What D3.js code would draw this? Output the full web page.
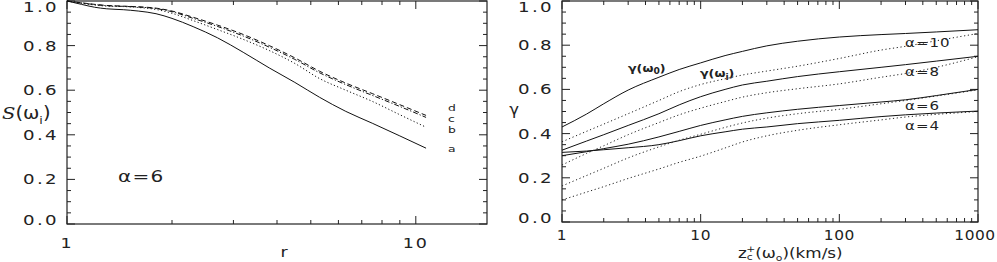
<!DOCTYPE html>
<html><head><meta charset="utf-8">
<script src="https://cdn.jsdelivr.net/npm/d3@7/dist/d3.min.js"></script>
<style>
html,body{margin:0;padding:0;background:#fff;}
text{font-family:"DejaVu Sans",sans-serif;fill:#222;}
</style></head>
<body>
<svg id="c" width="997" height="262"></svg>
<script>
// ---------- DATA ----------
// Left panel: S(omega_i) vs r, alpha = 6
const leftR = [1, 1.1, 1.2, 1.3, 1.45, 1.6, 1.8, 2.0, 2.3, 2.7, 3.2, 3.8, 4.5, 5.3, 6.3, 7.5, 9, 10.7];
const sA = [1.0, 0.985, 0.972, 0.965, 0.961, 0.955, 0.943, 0.922, 0.885, 0.835, 0.77, 0.70, 0.635, 0.568, 0.505, 0.452, 0.395, 0.34];
const sB = [1.0, 0.99, 0.982, 0.977, 0.975, 0.971, 0.962, 0.945, 0.912, 0.872, 0.828, 0.778, 0.72, 0.652, 0.60, 0.55, 0.49, 0.434];
const sC = [1.0, 0.991, 0.984, 0.979, 0.976, 0.973, 0.966, 0.952, 0.922, 0.886, 0.843, 0.793, 0.738, 0.678, 0.625, 0.577, 0.527, 0.478];
const sD = [1.0, 0.992, 0.985, 0.98, 0.977, 0.974, 0.968, 0.955, 0.927, 0.892, 0.85, 0.80, 0.745, 0.685, 0.632, 0.585, 0.535, 0.487];
const leftSeriesNames = ["d", "c", "b", "a"];

// Right panel: gamma vs z_c^+(omega_0)
const zVals = [1, 1.5, 2, 3, 5, 7, 10, 15, 20, 30, 50, 100, 200, 300, 500, 1000];
const g0A10 = [0.43, 0.488, 0.535, 0.597, 0.655, 0.69, 0.72, 0.753, 0.772, 0.797, 0.818, 0.837, 0.848, 0.853, 0.86, 0.87];
const g0A8  = [0.325, 0.366, 0.395, 0.437, 0.49, 0.53, 0.567, 0.60, 0.62, 0.637, 0.658, 0.68, 0.70, 0.712, 0.728, 0.75];
const g0A6  = [0.30, 0.318, 0.332, 0.352, 0.385, 0.41, 0.437, 0.462, 0.478, 0.494, 0.51, 0.527, 0.543, 0.553, 0.572, 0.60];
const g0A4  = [0.315, 0.321, 0.327, 0.336, 0.35, 0.368, 0.39, 0.408, 0.42, 0.43, 0.445, 0.46, 0.477, 0.485, 0.493, 0.502];
const giA10 = [0.363, 0.41, 0.443, 0.49, 0.55, 0.59, 0.622, 0.648, 0.665, 0.683, 0.705, 0.74, 0.778, 0.795, 0.82, 0.853];
const giA8  = [0.258, 0.31, 0.345, 0.395, 0.45, 0.485, 0.515, 0.545, 0.565, 0.585, 0.603, 0.625, 0.655, 0.672, 0.70, 0.748];
const giA6  = [0.163, 0.21, 0.243, 0.29, 0.34, 0.37, 0.397, 0.428, 0.448, 0.47, 0.49, 0.51, 0.535, 0.55, 0.57, 0.598];
const giA4  = [0.10, 0.135, 0.16, 0.197, 0.24, 0.27, 0.298, 0.335, 0.362, 0.39, 0.415, 0.44, 0.462, 0.475, 0.487, 0.50];
const alphaLabels = ["α=10", "α=8", "α=6", "α=4"];

// Tick labels
const yTicks = [0, 0.2, 0.4, 0.6, 0.8, 1.0];
const leftXTicks = [1, 10];
const rightXTicks = [1, 10, 100, 1000];

// ---------- DRAW ----------
const svg = d3.select("#c");
svg.append("rect").attr("width", 997).attr("height", 262).attr("fill", "#fff");

const SX = 1.25;
function txt(g, x, y, s, o = {}) {
  const t = g.append("text")
    .attr("transform", `translate(${x},${y}) scale(${o.sx || SX},1)`)
    .attr("font-size", o.size || 14)
    .attr("text-anchor", o.anchor || "start");
  if (o.ls) t.attr("letter-spacing", o.ls);
  if (o.weight) t.attr("font-weight", o.weight);
  if (o.style) t.attr("font-style", o.style);
  t.text(s);
  return t;
}

function frame(g, x, y) {
  const [x0, x1] = x.range(), [y0, y1] = y.range();
  g.append("rect").attr("x", x0).attr("y", y1).attr("width", x1 - x0).attr("height", y0 - y1)
    .attr("fill", "none").attr("stroke", "#222").attr("stroke-width", 1.2);
  const yt = d3.range(0, 1.0001, 0.05);
  yt.forEach(v => {
    const major = Math.abs(v * 5 - Math.round(v * 5)) < 1e-6;
    const L = major ? 8 : 4;
    const py = y(v);
    g.append("line").attr("x1", x0).attr("x2", x0 + L).attr("y1", py).attr("y2", py).attr("stroke", "#222");
    g.append("line").attr("x1", x1).attr("x2", x1 - L).attr("y1", py).attr("y2", py).attr("stroke", "#222");
  });
  const [d0, d1] = x.domain();
  const xt = [];
  for (let dec = 1; dec < d1; dec *= 10) for (let m = 1; m < 10; m++) { const v = dec * m; if (v >= d0 && v <= d1) xt.push([v, m === 1]); }
  if (Math.abs(Math.log10(d1) - Math.round(Math.log10(d1))) < 1e-9) xt.push([d1, true]);
  xt.forEach(([v, major]) => {
    const L = major ? 8 : 4;
    const px = x(v);
    g.append("line").attr("x1", px).attr("x2", px).attr("y1", y0).attr("y2", y0 - L).attr("stroke", "#222");
    g.append("line").attr("x1", px).attr("x2", px).attr("y1", y1).attr("y2", y1 + L).attr("stroke", "#222");
  });
  yTicks.forEach(v => {
    let py = y(v) + 5;
    py = Math.min(Math.max(py, y1 + 11), y0 + 1);
    txt(g, x0 - 8, py, d3.format(".1f")(v), { anchor: "end", ls: 1.8, size: 14, sx: 1.3 });
  });
}

// ----- Left panel -----
const gL = svg.append("g");
const xL = d3.scaleLog().domain([1, 16]).range([67, 487]);
const yL = d3.scaleLinear().domain([0, 1]).range([224, 1]);
frame(gL, xL, yL);
leftXTicks.forEach(v => txt(gL, xL(v), 248, String(v), { anchor: "middle", ls: 1.5 }));
txt(gL, 284, 257, "r", { anchor: "middle" });

const lineL = d3.line().x(d => xL(d[0])).y(d => yL(d[1])).curve(d3.curveMonotoneX);
const leftSeries = [sA, sB, sC, sD];
const leftDash = [null, "1.2,2.3", "5,2,1.2,2", "5,3"];
leftSeries.forEach((s, i) => {
  gL.append("path").datum(leftR.map((r, j) => [r, s[j]])).attr("d", lineL)
    .attr("fill", "none").attr("stroke", "#111").attr("stroke-width", 1)
    .attr("stroke-dasharray", leftDash[i]);
});
// series letters
const letterY = [110.5, 121.7, 132.9, 152];
leftSeriesNames.forEach((n, i) => txt(gL, 448, letterY[i], n, { size: 9.5, sx: 1.3 }));
txt(gL, 118, 182, "α=6", { size: 16, ls: 1 });
// y label
{
  const t = gL.append("text").attr("transform", "translate(2,119) scale(1.15,1)").attr("font-size", 17);
  t.append("tspan").attr("font-style", "italic").attr("font-family", "DejaVu Serif").text("S");
  t.append("tspan").text("(ω");
  t.append("tspan").attr("font-size", 11).attr("dy", 5).text("i");
  t.append("tspan").attr("dy", -5).text(")");
}

// ----- Right panel -----
const gR = svg.append("g");
const xR = d3.scaleLog().domain([1, 1000]).range([562, 978]);
const yR = d3.scaleLinear().domain([0, 1]).range([222, 1]);
frame(gR, xR, yR);
rightXTicks.forEach(v => txt(gR, v === 1000 ? 975 : xR(v), 240, String(v), { anchor: "middle", ls: 0.5, sx: 1.1 }));

const lineR = d3.line().x(d => xR(d[0])).y(d => yR(d[1])).curve(d3.curveMonotoneX);
[g0A10, g0A8, g0A6, g0A4].forEach(s => {
  gR.append("path").datum(zVals.map((z, j) => [z, s[j]])).attr("d", lineR)
    .attr("fill", "none").attr("stroke", "#111").attr("stroke-width", 1);
});
[giA10, giA8, giA6, giA4].forEach(s => {
  gR.append("path").datum(zVals.map((z, j) => [z, s[j]])).attr("d", lineR)
    .attr("fill", "none").attr("stroke", "#222").attr("stroke-width", 1)
    .attr("stroke-dasharray", "1.2,2.6");
});
const alphaY = [47, 76, 110, 130];
alphaLabels.forEach((s, i) => txt(gR, 905, alphaY[i], s, { size: 12, ls: 0.8 }));

// curve labels
{
  const t = gR.append("text").attr("transform", "translate(628,72) scale(1.15,1)").attr("font-size", 11).attr("font-weight", "bold");
  t.append("tspan").text("γ(ω");
  t.append("tspan").attr("font-size", 8).attr("dy", 2).text("0");
  t.append("tspan").attr("dy", -2).text(")");
  const t2 = gR.append("text").attr("transform", "translate(700,77) scale(1.15,1)").attr("font-size", 11).attr("font-weight", "bold");
  t2.append("tspan").text("γ(ω");
  t2.append("tspan").attr("font-size", 8).attr("dy", 3).text("i");
  t2.append("tspan").attr("dy", -3).text(")");
}
// y label
txt(gR, 514, 115, "γ", { size: 15, anchor: "middle", sx: 1.1 });
// x label
{
  const t = gR.append("text").attr("transform", "translate(738,258) scale(1.2,1)").attr("font-size", 14);
  t.append("tspan").text("z");
  t.append("tspan").attr("font-size", 9).attr("dy", 2).text("c");
  t.append("tspan").attr("font-size", 9).attr("dx", -5.5).attr("dy", -8).text("+");
  t.append("tspan").attr("dy", 6).attr("dx", 0).text("(ω");
  t.append("tspan").attr("font-size", 9).attr("dy", 3).text("o");
  t.append("tspan").attr("dy", -3).text(")(km/s)");
}
</script>
</body></html>
